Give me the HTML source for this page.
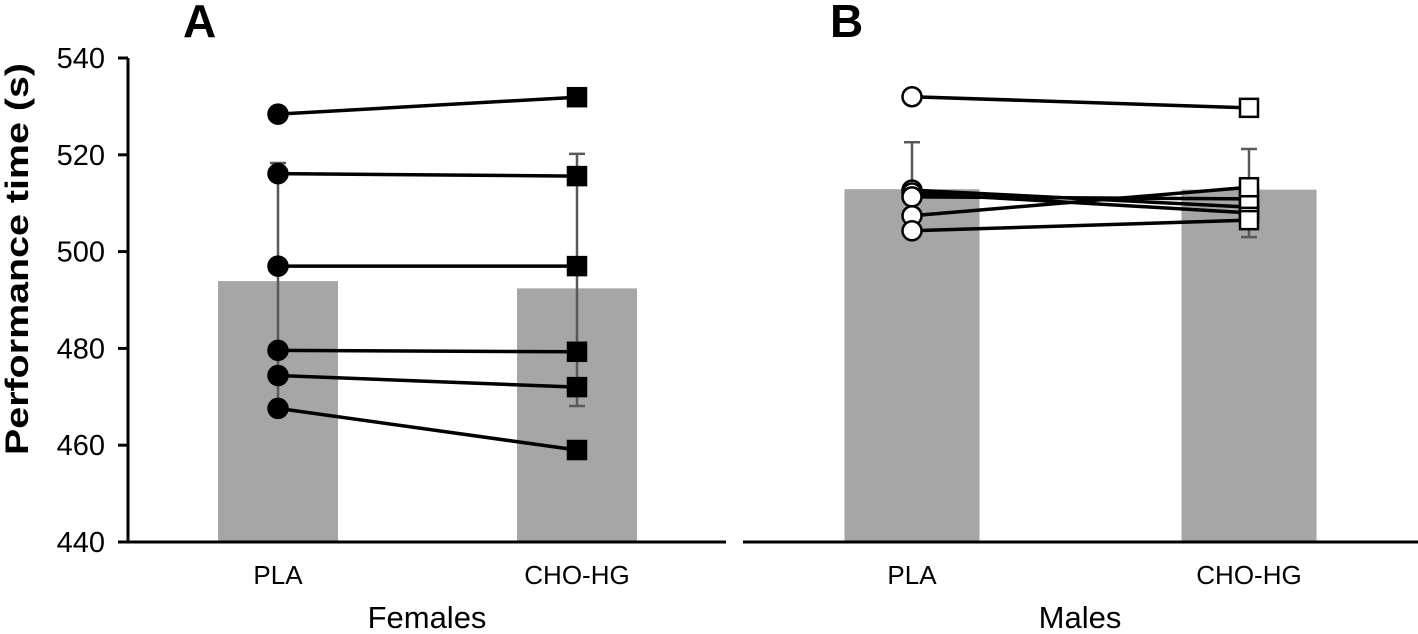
<!DOCTYPE html>
<html><head><meta charset="utf-8"><style>
html,body{margin:0;padding:0;background:#fff;}
svg{display:block;font-family:"Liberation Sans",sans-serif;}
</style></head><body>
<svg id="chart" width="1418" height="634" viewBox="0 0 1418 634">
<g id="root"></g>
</svg>
<script>
const yTicks=[440,460,480,500,520,540];
const conditions=["PLA","CHO-HG"];
const femaleMeans=[493.9,492.4];
const femaleErrTop=[518.3,520.2];
const femaleErrBottom=[466.2,468.1];
const femalePLA=[528.4,516.1,497.0,479.6,474.4,467.6];
const femaleCHO=[531.9,515.6,497.0,479.3,472.0,459.0];
const maleMeans=[512.9,512.8];
const maleErrTop=[522.6,521.2];
const maleErrBottom=[503.5,503.0];
const malePLA=[532.0,512.7,512.1,511.3,507.4,504.3];
const maleCHO=[529.7,509.2,508.0,510.9,513.3,506.5];

const NS="http://www.w3.org/2000/svg";
const root=document.getElementById('root');
function y(v){return 58+(540-v)*4.84;}
function mk(tag,attrs,parent){const e=document.createElementNS(NS,tag);for(const k in attrs)e.setAttribute(k,attrs[k]);(parent||root).appendChild(e);return e;}

const panels=[
 {name:'females',cx:[278,577],bw:120,means:femaleMeans,et:femaleErrTop,eb:femaleErrBottom,p:femalePLA,c:femaleCHO,fill:'#000',label:'Females',lx:427,letter:'A',ax:[128,726],letx:183},
 {name:'males',cx:[912,1249],bw:135,means:maleMeans,et:maleErrTop,eb:maleErrBottom,p:malePLA,c:maleCHO,fill:'#fff',label:'Males',lx:1080,letter:'B',ax:[743,1418],letx:830}
];
panels.forEach(pn=>{
 const g=mk('g',{});
 
 
 pn.means.forEach((m,i)=>{
  const r=mk('rect',{x:pn.cx[i]-pn.bw/2,y:y(m),width:pn.bw,height:y(440)-y(m),fill:'#a6a6a6'},g);
  
  
 });
 pn.means.forEach((m,i)=>{
  const e=mk('g',{stroke:'#595959','stroke-width':2.5},g);
  
  
  mk('line',{x1:pn.cx[i],x2:pn.cx[i],y1:y(pn.et[i]),y2:y(pn.eb[i])},e);
  mk('line',{x1:pn.cx[i]-8,x2:pn.cx[i]+8,y1:y(pn.et[i]),y2:y(pn.et[i])},e);
  mk('line',{x1:pn.cx[i]-8,x2:pn.cx[i]+8,y1:y(pn.eb[i]),y2:y(pn.eb[i])},e);
 });
 pn.p.forEach((v,k)=>{
  const l=mk('line',{x1:pn.cx[0],y1:y(v),x2:pn.cx[1],y2:y(pn.c[k]),stroke:'#000','stroke-width':3.5},g);
  
  
 });
 pn.p.forEach((v,k)=>{
  const c=mk('circle',{cx:pn.cx[0],cy:y(v),r:9.5,fill:pn.fill,stroke:'#000','stroke-width':2.5},g);
  
  
 });
 pn.c.forEach((v,k)=>{
  const s=mk('rect',{x:pn.cx[1]-9,y:y(v)-9,width:18,height:18,fill:pn.fill,stroke:'#000','stroke-width':2.5},g);
  
  
 });
 const ax=mk('line',{x1:pn.ax[0],x2:pn.ax[1],y1:y(440),y2:y(440),stroke:'#000','stroke-width':3},g);
 
 
 conditions.forEach((c,i)=>{
  const t=mk('text',{x:pn.cx[i],y:584,'text-anchor':'middle','font-size':26},g);
  t.textContent=c;
  
  
 });
 const lt=mk('text',{x:pn.lx,y:628,'text-anchor':'middle','font-size':31},g);
 lt.textContent=pn.label;
 
 
 const L=mk('text',{x:pn.letx,y:37,'font-size':46,'font-weight':'bold'},g);
 L.textContent=pn.letter;
 
 
});
const ya=mk('g',{});


mk('line',{x1:128,x2:128,y1:y(540),y2:y(440),stroke:'#000','stroke-width':3},ya);
yTicks.forEach(v=>{
 mk('line',{x1:118,x2:128,y1:y(v),y2:y(v),stroke:'#000','stroke-width':3},ya);
 const t=mk('text',{x:105,y:y(v)+10,'text-anchor':'end','font-size':29},ya);
 t.textContent=v;
 
 
});
const yt=mk('text',{x:0,y:0,'text-anchor':'middle','font-size':32,'font-weight':'bold',textLength:392,lengthAdjust:'spacingAndGlyphs',transform:'translate(28,259) rotate(-90)'});
yt.textContent='Performance time (s)';


</script>
</body></html>
